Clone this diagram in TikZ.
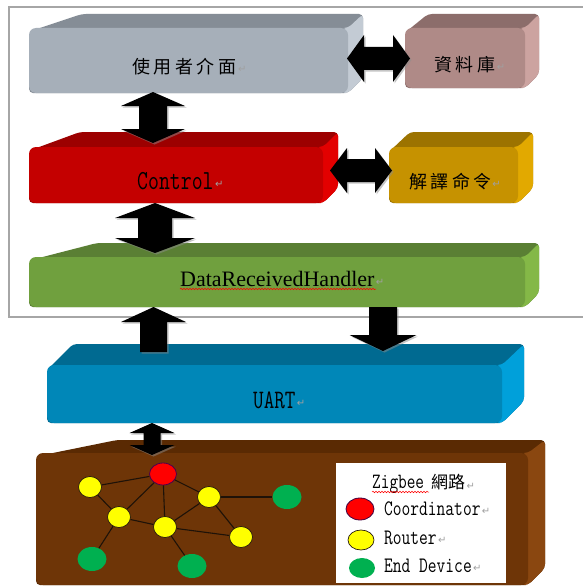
\documentclass[tikz,border=0pt]{standalone}
\usepackage{fontspec}
\setmainfont{Liberation Serif}
\newfontfamily\cjk[LetterSpace=20]{Noto Sans CJK TC}
\newfontfamily\cjkplain{Noto Sans CJK TC}
\newfontfamily\symf{DejaVu Sans}
\usetikzlibrary{shapes.geometric,decorations.pathmorphing}

% face colours of the extruded blocks: <name>top, <name>side, <name>front
\definecolor{uitop}{HTML}{858D96}\definecolor{uiside}{HTML}{C3CBD4}\definecolor{uifront}{HTML}{A6AFB9}
\definecolor{dbtop}{HTML}{8C6D6B}\definecolor{dbside}{HTML}{CCA3A0}\definecolor{dbfront}{HTML}{AF8A87}
\definecolor{cttop}{HTML}{9C0000}\definecolor{ctside}{HTML}{E30000}\definecolor{ctfront}{HTML}{C40000}
\definecolor{cmtop}{HTML}{9C7300}\definecolor{cmside}{HTML}{E2A900}\definecolor{cmfront}{HTML}{C69200}
\definecolor{drtop}{HTML}{5A7F34}\definecolor{drside}{HTML}{84B847}\definecolor{drfront}{HTML}{70A03E}
\definecolor{uatop}{HTML}{006A91}\definecolor{uaside}{HTML}{00A0DA}\definecolor{uafront}{HTML}{0087B8}
\definecolor{zbtop}{HTML}{5A2A03}\definecolor{zbside}{HTML}{8A4710}\definecolor{zbfront}{HTML}{6E3507}
\definecolor{framegrey}{HTML}{A6A6A6}
\definecolor{retgrey}{HTML}{A0A0A0}
\definecolor{netline}{HTML}{1E1208}
\definecolor{coordred}{HTML}{FF0000}
\definecolor{routeryellow}{HTML}{FFFF00}
\definecolor{enddevgreen}{HTML}{00B050}

% narrow, tall monospace lettering
\newcommand\mono[2]{\scalebox{1}[1.3]{\fontsize{#1}{#1}\selectfont\ttfamily #2}}

% extruded block: x1, ytop, x2, ybottom, ybacktop, xbackleft, xside, colour prefix
\newcommand\slab[8]{%
  \fill[#8top, rounded corners=4] ({#1+2},{#2+3}) -- ({#6},{#5}) -- ({#7},{#5})
     -- ({#7},{#4-(#7-#3)}) -- ({#3},{#4}) -- ({#1},{#4}) -- cycle;
  \fill[#8side, rounded corners=4] ({#3-6},{#2}) -- ({#3},{#2}) -- ({#7},{#5})
     -- ({#7},{#4-(#7-#3)}) -- ({#3},{#4}) -- ({#3-6},{#4}) -- cycle;
  \fill[#8front, rounded corners=7] ({#1},{#2}) rectangle ({#3},{#4});
}

% block arrows
\newcommand\vdpath[6]{% cx, ytop, ybot, head half width, shaft half width, head length
  ({#1},{#2}) -- ({#1+#4},{#2+#6}) -- ({#1+#5},{#2+#6}) -- ({#1+#5},{#3-#6})
  -- ({#1+#4},{#3-#6}) -- ({#1},{#3}) -- ({#1-#4},{#3-#6}) -- ({#1-#5},{#3-#6})
  -- ({#1-#5},{#2+#6}) -- ({#1-#4},{#2+#6}) -- cycle}
\newcommand\hdpath[6]{% cy, xleft, xright, head half height, shaft half height, head length
  ({#2},{#1}) -- ({#2+#6},{#1-#4}) -- ({#2+#6},{#1-#5}) -- ({#3-#6},{#1-#5})
  -- ({#3-#6},{#1-#4}) -- ({#3},{#1}) -- ({#3-#6},{#1+#4}) -- ({#3-#6},{#1+#5})
  -- ({#2+#6},{#1+#5}) -- ({#2+#6},{#1+#4}) -- cycle}
\newcommand\uppath[6]{% cx, ytip, ybottom, head half width, shaft half width, head length
  ({#1},{#2}) -- ({#1+#4},{#2+#6}) -- ({#1+#5},{#2+#6}) -- ({#1+#5},{#3})
  -- ({#1-#5},{#3}) -- ({#1-#5},{#2+#6}) -- ({#1-#4},{#2+#6}) -- cycle}
\newcommand\downpath[6]{% cx, ytop, ytip, head half width, shaft half width, head length
  ({#1-#5},{#2}) -- ({#1+#5},{#2}) -- ({#1+#5},{#3-#6}) -- ({#1+#4},{#3-#6})
  -- ({#1},{#3}) -- ({#1-#4},{#3-#6}) -- ({#1-#5},{#3-#6}) -- cycle}
\newcommand\blockarrow[1]{%
  \fill[black!45, opacity=0.5] [shift={(1.5,1.5)}] #1;
  \fill[black] #1;
}

\tikzset{
  cjktext/.style={inner sep=0, anchor=west, font=\cjk\fontsize{18}{18}\selectfont},
  retmark/.style={inner sep=0, anchor=west, text=retgrey, font=\symf\fontsize{10}{10}\selectfont},
  label text/.style={inner sep=0, anchor=west},
  coordnode/.style={ellipse, inner sep=0, fill=coordred, draw=violet!60!black, line width=0.8,
    minimum width=27pt, minimum height=22pt},
  routernode/.style={ellipse, inner sep=0, fill=routeryellow, draw=black!80!brown, line width=0.7,
    minimum width=23pt, minimum height=21pt},
  endnode/.style={ellipse, inner sep=0, fill=enddevgreen, minimum width=29pt, minimum height=24pt},
  link/.style={netline, line width=1.1},
  spellmark/.style={red, line width=0.5, decorate,
    decoration={snake, amplitude=0.8pt, segment length=3pt}}
}

\begin{document}
\begin{tikzpicture}[x=1pt,y=-1pt]
\useasboundingbox (0,0) rectangle (583,586);
\fill[white] (0,0) rectangle (583,586);

% application frame (open to the right)
\draw[framegrey, line width=1.1] (590,7) -- (9,7) -- (9,317) -- (590,317);

% blocks
\slab{29}{28}{348}{93}{14}{82}{363}{ui}
\slab{405}{28}{525}{88}{14}{428}{539}{db}
\slab{29}{147}{323}{203}{132}{80}{338}{ct}
\slab{389}{147}{518}{203}{132}{410}{533}{cm}
\slab{29}{257}{525}{307}{243}{97}{539}{dr}
\slab{47}{365}{502}{423}{344}{73}{524}{ua}
\slab{36}{453}{528}{585}{440}{117}{545}{zb}

% block arrows between the layers
\blockarrow{\vdpath{153}{92}{143}{32}{14}{14}}
\blockarrow{\hdpath{58.5}{347}{410}{23.5}{11.5}{17}}
\blockarrow{\hdpath{170.5}{330}{392}{22.5}{11.5}{17}}
\blockarrow{\vdpath{155}{203}{253}{40}{17}{15}}
\blockarrow{\uppath{153.5}{307}{352}{32.5}{13.5}{15}}
\blockarrow{\downpath{383}{307}{351}{33.5}{14}{16}}
\blockarrow{\vdpath{152}{423}{455}{22.5}{8.5}{10}}

% block labels
\node[cjktext] (tui) at (132,67) {使用者介面};
\node[retmark] (rui) at ([xshift=1pt,yshift=-2pt]tui.east) {↵};
\node[cjktext] (tdb) at (434,65) {資料庫};
\node[retmark] (rdb) at ([xshift=1pt,yshift=-2pt]tdb.east) {↵};
\node[label text] (tct) at (137,181) {\mono{21.2}{Control}};
\node[retmark] (rct) at ([xshift=1pt,yshift=-3pt]tct.east) {↵};
\node[cjktext] (tcm) at (409,182) {解譯命令};
\node[retmark] (rcm) at ([xshift=0pt,yshift=-2pt]tcm.east) {↵};
\node[label text, font=\fontsize{22}{22}\selectfont] (tdr) at (180,279) {DataReceivedHandler};
\node[retmark] (rdr) at ([xshift=1pt,yshift=-3pt]tdr.east) {↵};
\draw[spellmark] (180,289) -- (376,289);
\node[label text] (tua) at (253,400) {\mono{20.5}{UART}};
\node[retmark] (rua) at ([xshift=1pt,yshift=-3pt]tua.east) {↵};

% Zigbee network
\node[coordnode] (co) at (163,474) {};
\node[routernode] (ra) at (90,487) {};
\node[routernode] (rb) at (119,517) {};
\node[routernode] (rc) at (209,497) {};
\node[routernode] (rd) at (165,527) {};
\node[routernode] (re) at (241,537) {};
\node[endnode] (ef) at (287,497) {};
\node[endnode] (eg) at (92,559) {};
\node[endnode] (eh) at (192,566) {};
\draw[link] (co) -- (ra);
\draw[link] (co) -- (rb);
\draw[link] (co) -- (rd);
\draw[link] (co) -- (rc);
\draw[link] (ra) -- (rb);
\draw[link] (rb) -- (rd);
\draw[link] (rb) -- (eg);
\draw[link] (rc) -- (rd);
\draw[link] (rc) -- (re);
\draw[link] (rc) -- (ef);
\draw[link] (rd) -- (re);
\draw[link] (rd) -- (eh);

% legend
\fill[white] (336,463) rectangle (506,583);
\node[label text] (lz) at (372,484) {\mono{16.8}{Zigbee}\hspace{7pt}{\cjkplain\fontsize{17}{17}\selectfont 網路}};
\node[retmark] (rlz) at ([xshift=1pt,yshift=-2pt]lz.east) {↵};
\draw[spellmark] (372,492) -- (429,492);
\node[coordnode, minimum width=28pt, minimum height=22pt, draw=violet!50!black] (lco) at (360,509) {};
\node[label text] (tlco) at (384,509) {\mono{17}{Coordinator}};
\node[retmark] (rlco) at ([xshift=1pt,yshift=-2pt]tlco.east) {↵};
\node[routernode, minimum width=26pt, minimum height=20pt] (lro) at (361,540) {};
\node[label text] (tlro) at (384,538) {\mono{17}{Router}};
\node[retmark] (rlro) at ([xshift=1pt,yshift=-2pt]tlro.east) {↵};
\node[endnode, minimum width=26pt, minimum height=20pt] (led) at (362,568) {};
\node[label text] (tled) at (384,566) {\mono{17}{End Device}};
\node[retmark] (rled) at ([xshift=1pt,yshift=-2pt]tled.east) {↵};
\end{tikzpicture}
\end{document}
